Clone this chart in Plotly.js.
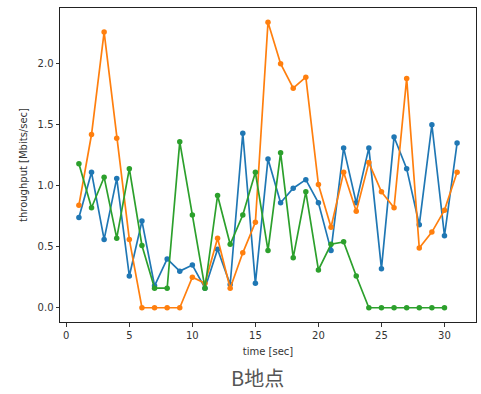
<!DOCTYPE html>
<html>
<head>
<meta charset="utf-8">
<script src="https://cdn.plot.ly/plotly-3.0.1.min.js"></script>
<style>html,body{margin:0;padding:0;background:#fff;}#chart{width:481px;height:394px;}</style>
</head>
<body>
<div id="chart"></div>
<script>
const timeSec = [1,2,3,4,5,6,7,8,9,10,11,12,13,14,15,16,17,18,19,20,21,22,23,24,25,26,27,28,29,30,31];
const blueSeries = [0.74,1.11,0.56,1.06,0.26,0.71,0.18,0.40,0.30,0.35,0.16,0.48,0.19,1.43,0.20,1.22,0.86,0.98,1.05,0.86,0.47,1.31,0.86,1.31,0.32,1.40,1.14,0.68,1.50,0.59,1.35];
const orangeSeries = [0.84,1.42,2.26,1.39,0.56,0,0,0,0,0.25,0.20,0.57,0.16,0.45,0.70,2.34,2.00,1.80,1.89,1.01,0.66,1.11,0.79,1.19,0.95,0.82,1.88,0.49,0.62,0.80,1.11];
const greenSeries = [1.18,0.82,1.07,0.57,1.14,0.51,0.16,0.16,1.36,0.76,0.16,0.92,0.52,0.76,1.11,0.47,1.27,0.41,0.95,0.31,0.52,0.54,0.26,0,0,0,0,0,0,0];
const xTicks = [0,5,10,15,20,25,30];
const yTicks = [0,0.5,1.0,1.5,2.0];

const colors = ['#1f77b4','#ff7f0e','#2ca02c'];
function mk(y, c){
  return {x: timeSec.slice(0, y.length), y: y, type:'scatter', mode:'lines+markers',
    line:{color:c, width:1.7}, marker:{color:c, size:5.5}, showlegend:false};
}
const data = [mk(blueSeries,colors[0]), mk(orangeSeries,colors[1]), mk(greenSeries,colors[2])];
const axFont = {family:'DejaVu Sans, sans-serif', size:10, color:'#333'};
const layout = {
  width:481, height:394,
  margin:{l:60, r:5, t:8, b:72},
  paper_bgcolor:'#fff', plot_bgcolor:'#fff',
  xaxis:{range:[-0.5,32.5], tickvals:xTicks, ticks:'outside', ticklen:3.5, tickcolor:'#333',
    showgrid:false, zeroline:false, showline:true, linecolor:'#222', linewidth:1, mirror:true,
    tickfont:axFont, title:{text:'time [sec]', font:axFont, standoff:8}},
  yaxis:{range:[-0.117,2.457], tickvals:yTicks, tickformat:'.1f', ticks:'outside', ticklen:3.5, tickcolor:'#333',
    showgrid:false, zeroline:false, showline:true, linecolor:'#222', linewidth:1, mirror:true,
    tickfont:axFont, title:{text:'throughput [Mbits/sec]', font:axFont, standoff:8}},
  annotations:[{text:'B地点', xref:'paper', yref:'paper', x:0.475, y:-0.178, xanchor:'center', yanchor:'middle',
    showarrow:false, font:{family:'Noto Sans CJK JP, sans-serif', size:20, color:'#555'}}]
};
Plotly.newPlot('chart', data, layout, {displayModeBar:false, staticPlot:true});
</script>
</body>
</html>
